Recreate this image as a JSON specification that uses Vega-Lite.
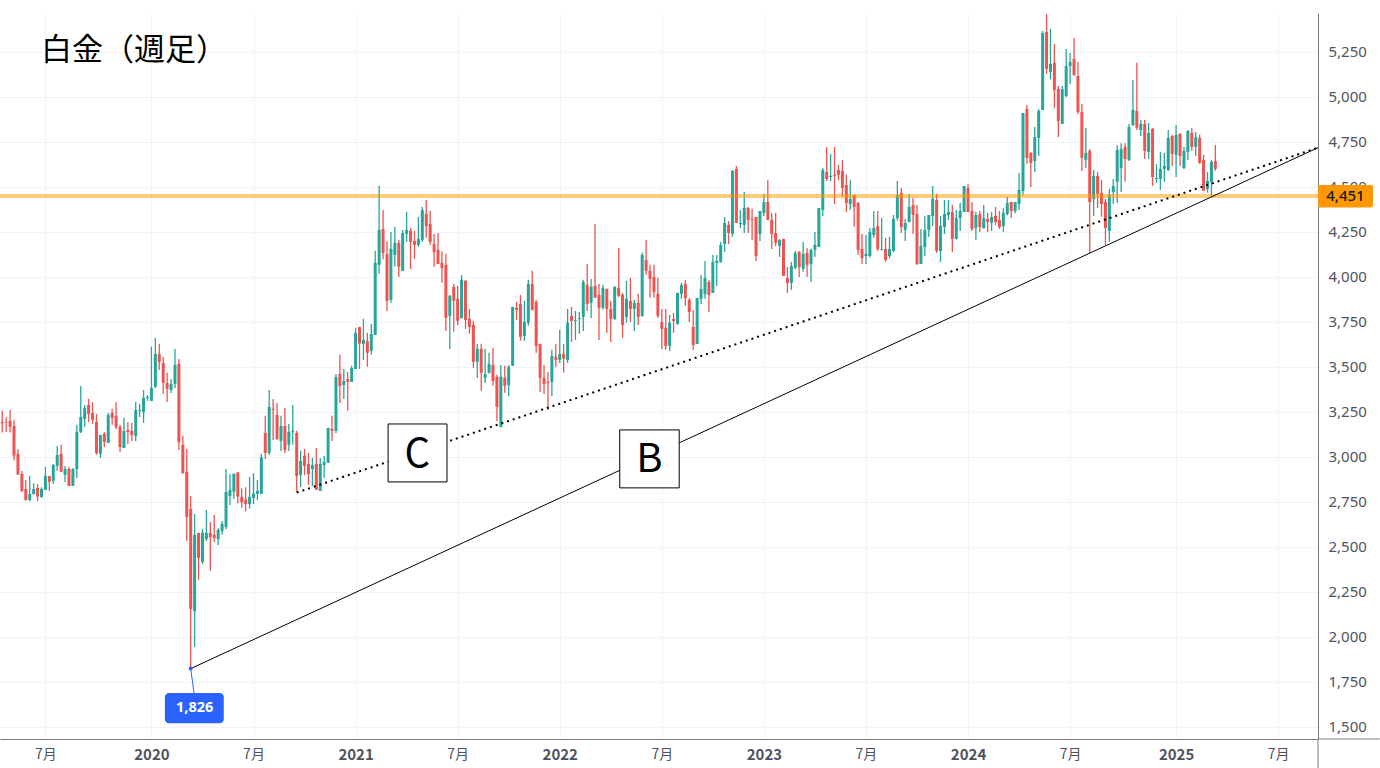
{
  "$schema": "https://vega.github.io/schema/vega-lite/v6.json",
  "width": 1318,
  "height": 726,
  "autosize": {"type": "none"},
  "padding": {"left": 0, "top": 13, "right": 62, "bottom": 29},
  "background": "#ffffff",
  "config": {"view": {"stroke": null}, "font": "Noto Sans"},
  "data": {"values": [
{"d":"2019-04-15","o":3196,"h":3259,"l":3137,"c":3189},
{"d":"2019-04-22","o":3196,"h":3222,"l":3141,"c":3193},
{"d":"2019-04-29","o":3202,"h":3263,"l":3137,"c":3169},
{"d":"2019-05-06","o":3174,"h":3208,"l":2982,"c":3009},
{"d":"2019-05-13","o":3019,"h":3046,"l":2902,"c":2904},
{"d":"2019-05-20","o":2907,"h":2924,"l":2807,"c":2813},
{"d":"2019-05-27","o":2824,"h":2874,"l":2760,"c":2763},
{"d":"2019-06-03","o":2763,"h":2896,"l":2757,"c":2796},
{"d":"2019-06-10","o":2796,"h":2856,"l":2792,"c":2824},
{"d":"2019-06-17","o":2830,"h":2852,"l":2757,"c":2782},
{"d":"2019-06-24","o":2780,"h":2833,"l":2774,"c":2824},
{"d":"2019-07-01","o":2819,"h":2946,"l":2819,"c":2896},
{"d":"2019-07-08","o":2896,"h":2896,"l":2813,"c":2863},
{"d":"2019-07-15","o":2869,"h":2963,"l":2852,"c":2957},
{"d":"2019-07-22","o":2952,"h":3063,"l":2924,"c":3013},
{"d":"2019-07-29","o":3019,"h":3069,"l":2919,"c":2919},
{"d":"2019-08-05","o":2902,"h":2952,"l":2863,"c":2935},
{"d":"2019-08-12","o":2935,"h":2946,"l":2841,"c":2841},
{"d":"2019-08-19","o":2841,"h":2941,"l":2841,"c":2935},
{"d":"2019-08-26","o":2935,"h":3180,"l":2885,"c":3141},
{"d":"2019-09-02","o":3141,"h":3396,"l":3135,"c":3224},
{"d":"2019-09-09","o":3213,"h":3291,"l":3169,"c":3274},
{"d":"2019-09-16","o":3291,"h":3324,"l":3196,"c":3241},
{"d":"2019-09-23","o":3246,"h":3307,"l":3185,"c":3208},
{"d":"2019-09-30","o":3196,"h":3241,"l":3013,"c":3024},
{"d":"2019-10-07","o":3019,"h":3124,"l":2996,"c":3124},
{"d":"2019-10-14","o":3130,"h":3141,"l":3057,"c":3085},
{"d":"2019-10-21","o":3080,"h":3246,"l":3080,"c":3235},
{"d":"2019-10-28","o":3246,"h":3269,"l":3180,"c":3219},
{"d":"2019-11-04","o":3230,"h":3307,"l":3157,"c":3169},
{"d":"2019-11-11","o":3169,"h":3180,"l":3030,"c":3057},
{"d":"2019-11-18","o":3052,"h":3219,"l":3052,"c":3146},
{"d":"2019-11-25","o":3152,"h":3196,"l":3074,"c":3141},
{"d":"2019-12-02","o":3146,"h":3191,"l":3091,"c":3124},
{"d":"2019-12-09","o":3119,"h":3307,"l":3091,"c":3263},
{"d":"2019-12-16","o":3258,"h":3296,"l":3224,"c":3263},
{"d":"2019-12-23","o":3252,"h":3374,"l":3191,"c":3330},
{"d":"2019-12-30","o":3330,"h":3346,"l":3313,"c":3335},
{"d":"2020-01-06","o":3313,"h":3615,"l":3313,"c":3385},
{"d":"2020-01-13","o":3391,"h":3663,"l":3385,"c":3574},
{"d":"2020-01-20","o":3574,"h":3630,"l":3485,"c":3530},
{"d":"2020-01-27","o":3524,"h":3558,"l":3352,"c":3413},
{"d":"2020-02-03","o":3413,"h":3469,"l":3307,"c":3380},
{"d":"2020-02-10","o":3374,"h":3435,"l":3357,"c":3408},
{"d":"2020-02-17","o":3408,"h":3602,"l":3385,"c":3513},
{"d":"2020-02-24","o":3519,"h":3546,"l":3041,"c":3085},
{"d":"2020-03-02","o":3069,"h":3119,"l":2907,"c":2913},
{"d":"2020-03-09","o":2919,"h":3046,"l":2535,"c":2669},
{"d":"2020-03-16","o":2713,"h":2785,"l":1826,"c":2157},
{"d":"2020-03-23","o":2146,"h":2685,"l":1946,"c":2569},
{"d":"2020-03-30","o":2580,"h":2580,"l":2319,"c":2441},
{"d":"2020-04-06","o":2419,"h":2602,"l":2407,"c":2580},
{"d":"2020-04-13","o":2546,"h":2707,"l":2535,"c":2580},
{"d":"2020-04-20","o":2580,"h":2641,"l":2369,"c":2557},
{"d":"2020-04-27","o":2569,"h":2680,"l":2530,"c":2552},
{"d":"2020-05-04","o":2546,"h":2607,"l":2513,"c":2596},
{"d":"2020-05-11","o":2591,"h":2646,"l":2569,"c":2630},
{"d":"2020-05-18","o":2613,"h":2935,"l":2602,"c":2807},
{"d":"2020-05-25","o":2785,"h":2907,"l":2735,"c":2819},
{"d":"2020-06-01","o":2809,"h":2911,"l":2770,"c":2907},
{"d":"2020-06-08","o":2915,"h":2919,"l":2745,"c":2782},
{"d":"2020-06-15","o":2780,"h":2826,"l":2720,"c":2750},
{"d":"2020-06-22","o":2765,"h":2833,"l":2700,"c":2740},
{"d":"2020-06-29","o":2740,"h":2891,"l":2715,"c":2780},
{"d":"2020-07-06","o":2775,"h":2911,"l":2740,"c":2797},
{"d":"2020-07-13","o":2797,"h":2874,"l":2763,"c":2813},
{"d":"2020-07-20","o":2797,"h":3019,"l":2797,"c":3000},
{"d":"2020-07-27","o":3135,"h":3230,"l":2991,"c":3024},
{"d":"2020-08-03","o":3024,"h":3374,"l":3013,"c":3280},
{"d":"2020-08-10","o":3269,"h":3324,"l":3096,"c":3263},
{"d":"2020-08-17","o":3235,"h":3302,"l":3096,"c":3102},
{"d":"2020-08-24","o":3091,"h":3230,"l":3035,"c":3174},
{"d":"2020-08-31","o":3174,"h":3274,"l":3024,"c":3041},
{"d":"2020-09-07","o":3069,"h":3185,"l":3035,"c":3141},
{"d":"2020-09-14","o":3141,"h":3291,"l":3069,"c":3147},
{"d":"2020-09-21","o":3135,"h":3147,"l":2807,"c":2896},
{"d":"2020-09-28","o":2902,"h":3037,"l":2835,"c":2980},
{"d":"2020-10-05","o":3008,"h":3046,"l":2902,"c":2952},
{"d":"2020-10-12","o":2963,"h":3024,"l":2846,"c":2907},
{"d":"2020-10-19","o":2935,"h":2996,"l":2841,"c":2957},
{"d":"2020-10-26","o":2963,"h":3052,"l":2819,"c":2819},
{"d":"2020-11-02","o":2813,"h":2996,"l":2813,"c":2963},
{"d":"2020-11-09","o":2957,"h":3008,"l":2885,"c":2974},
{"d":"2020-11-16","o":2969,"h":3163,"l":2969,"c":3163},
{"d":"2020-11-23","o":3158,"h":3230,"l":3091,"c":3147},
{"d":"2020-11-30","o":3147,"h":3463,"l":3135,"c":3446},
{"d":"2020-12-07","o":3463,"h":3569,"l":3302,"c":3396},
{"d":"2020-12-14","o":3402,"h":3491,"l":3324,"c":3424},
{"d":"2020-12-21","o":3435,"h":3474,"l":3258,"c":3419},
{"d":"2020-12-28","o":3419,"h":3508,"l":3419,"c":3496},
{"d":"2021-01-04","o":3491,"h":3719,"l":3491,"c":3691},
{"d":"2021-01-11","o":3724,"h":3724,"l":3491,"c":3632},
{"d":"2021-01-18","o":3630,"h":3769,"l":3541,"c":3652},
{"d":"2021-01-25","o":3646,"h":3691,"l":3502,"c":3580},
{"d":"2021-02-01","o":3591,"h":3741,"l":3569,"c":3685},
{"d":"2021-02-08","o":3680,"h":4147,"l":3680,"c":4080},
{"d":"2021-02-15","o":4069,"h":4508,"l":4019,"c":4263},
{"d":"2021-02-22","o":4269,"h":4374,"l":4100,"c":4135},
{"d":"2021-03-01","o":4130,"h":4200,"l":3813,"c":3869},
{"d":"2021-03-08","o":3874,"h":4252,"l":3858,"c":4158},
{"d":"2021-03-15","o":4124,"h":4280,"l":4060,"c":4191},
{"d":"2021-03-22","o":4191,"h":4208,"l":4002,"c":4058},
{"d":"2021-03-29","o":4035,"h":4263,"l":4035,"c":4246},
{"d":"2021-04-05","o":4241,"h":4363,"l":4196,"c":4263},
{"d":"2021-04-12","o":4258,"h":4274,"l":4046,"c":4196},
{"d":"2021-04-19","o":4202,"h":4258,"l":4102,"c":4180},
{"d":"2021-04-26","o":4180,"h":4335,"l":4169,"c":4213},
{"d":"2021-05-03","o":4208,"h":4391,"l":4196,"c":4374},
{"d":"2021-05-10","o":4352,"h":4430,"l":4219,"c":4285},
{"d":"2021-05-17","o":4296,"h":4369,"l":4180,"c":4196},
{"d":"2021-05-24","o":4185,"h":4241,"l":4058,"c":4141},
{"d":"2021-05-31","o":4152,"h":4246,"l":4074,"c":4074},
{"d":"2021-06-07","o":4080,"h":4143,"l":3969,"c":4052},
{"d":"2021-06-14","o":4069,"h":4130,"l":3702,"c":3774},
{"d":"2021-06-21","o":3786,"h":3902,"l":3602,"c":3897},
{"d":"2021-06-28","o":3947,"h":3963,"l":3697,"c":3869},
{"d":"2021-07-05","o":3880,"h":3952,"l":3735,"c":3758},
{"d":"2021-07-12","o":3774,"h":4013,"l":3770,"c":3986},
{"d":"2021-07-19","o":3980,"h":3986,"l":3713,"c":3763},
{"d":"2021-07-26","o":3769,"h":3824,"l":3685,"c":3724},
{"d":"2021-08-02","o":3735,"h":3758,"l":3497,"c":3530},
{"d":"2021-08-09","o":3530,"h":3630,"l":3441,"c":3602},
{"d":"2021-08-16","o":3602,"h":3630,"l":3369,"c":3469},
{"d":"2021-08-23","o":3441,"h":3602,"l":3413,"c":3463},
{"d":"2021-08-30","o":3469,"h":3580,"l":3465,"c":3519},
{"d":"2021-09-06","o":3513,"h":3608,"l":3397,"c":3424},
{"d":"2021-09-13","o":3447,"h":3458,"l":3202,"c":3280},
{"d":"2021-09-20","o":3169,"h":3513,"l":3165,"c":3447},
{"d":"2021-09-27","o":3441,"h":3508,"l":3358,"c":3397},
{"d":"2021-10-04","o":3402,"h":3513,"l":3341,"c":3502},
{"d":"2021-10-11","o":3508,"h":3835,"l":3508,"c":3835},
{"d":"2021-10-18","o":3830,"h":3863,"l":3763,"c":3819},
{"d":"2021-10-25","o":3852,"h":3902,"l":3647,"c":3669},
{"d":"2021-11-01","o":3674,"h":3869,"l":3647,"c":3752},
{"d":"2021-11-08","o":3747,"h":3986,"l":3730,"c":3963},
{"d":"2021-11-15","o":3963,"h":4036,"l":3815,"c":3819},
{"d":"2021-11-22","o":3863,"h":3874,"l":3580,"c":3619},
{"d":"2021-11-29","o":3630,"h":3630,"l":3363,"c":3441},
{"d":"2021-12-06","o":3441,"h":3513,"l":3352,"c":3408},
{"d":"2021-12-13","o":3419,"h":3474,"l":3263,"c":3413},
{"d":"2021-12-20","o":3419,"h":3597,"l":3341,"c":3563},
{"d":"2021-12-27","o":3558,"h":3630,"l":3502,"c":3541},
{"d":"2022-01-03","o":3541,"h":3708,"l":3524,"c":3574},
{"d":"2022-01-10","o":3574,"h":3630,"l":3469,"c":3547},
{"d":"2022-01-17","o":3541,"h":3824,"l":3524,"c":3747},
{"d":"2022-01-24","o":3785,"h":3835,"l":3641,"c":3758},
{"d":"2022-01-31","o":3758,"h":3813,"l":3652,"c":3763},
{"d":"2022-02-07","o":3769,"h":3808,"l":3685,"c":3774},
{"d":"2022-02-14","o":3780,"h":3986,"l":3702,"c":3974},
{"d":"2022-02-21","o":3958,"h":4074,"l":3813,"c":3852},
{"d":"2022-02-28","o":3858,"h":3991,"l":3774,"c":3947},
{"d":"2022-03-07","o":3952,"h":4297,"l":3886,"c":3886},
{"d":"2022-03-14","o":3902,"h":3963,"l":3652,"c":3830},
{"d":"2022-03-21","o":3830,"h":3958,"l":3819,"c":3941},
{"d":"2022-03-28","o":3936,"h":3936,"l":3691,"c":3824},
{"d":"2022-04-04","o":3824,"h":3869,"l":3641,"c":3769},
{"d":"2022-04-11","o":3769,"h":3952,"l":3763,"c":3947},
{"d":"2022-04-18","o":3941,"h":4163,"l":3890,"c":3897},
{"d":"2022-04-25","o":3902,"h":3913,"l":3663,"c":3735},
{"d":"2022-05-02","o":3780,"h":3980,"l":3747,"c":3880},
{"d":"2022-05-09","o":3869,"h":3997,"l":3752,"c":3824},
{"d":"2022-05-16","o":3824,"h":3874,"l":3702,"c":3858},
{"d":"2022-05-23","o":3858,"h":3908,"l":3735,"c":3780},
{"d":"2022-05-30","o":3785,"h":4136,"l":3780,"c":4124},
{"d":"2022-06-06","o":4097,"h":4208,"l":4013,"c":4036},
{"d":"2022-06-13","o":4036,"h":4069,"l":3886,"c":3991},
{"d":"2022-06-20","o":4002,"h":4069,"l":3886,"c":3919},
{"d":"2022-06-27","o":3908,"h":3997,"l":3774,"c":3786},
{"d":"2022-07-04","o":3752,"h":3824,"l":3602,"c":3713},
{"d":"2022-07-11","o":3719,"h":3824,"l":3597,"c":3619},
{"d":"2022-07-18","o":3619,"h":3791,"l":3591,"c":3747},
{"d":"2022-07-25","o":3768,"h":3802,"l":3691,"c":3757},
{"d":"2022-08-01","o":3741,"h":3913,"l":3735,"c":3913},
{"d":"2022-08-08","o":3907,"h":3968,"l":3880,"c":3957},
{"d":"2022-08-15","o":3963,"h":3985,"l":3841,"c":3885},
{"d":"2022-08-22","o":3874,"h":3885,"l":3752,"c":3807},
{"d":"2022-08-29","o":3724,"h":3818,"l":3596,"c":3624},
{"d":"2022-09-05","o":3630,"h":3885,"l":3630,"c":3885},
{"d":"2022-09-12","o":3880,"h":4013,"l":3852,"c":3935},
{"d":"2022-09-19","o":3907,"h":4091,"l":3880,"c":3996},
{"d":"2022-09-26","o":3974,"h":3985,"l":3807,"c":3902},
{"d":"2022-10-03","o":3913,"h":4124,"l":3913,"c":4085},
{"d":"2022-10-10","o":4080,"h":4124,"l":3952,"c":4091},
{"d":"2022-10-17","o":4085,"h":4196,"l":4080,"c":4180},
{"d":"2022-10-24","o":4185,"h":4335,"l":4141,"c":4302},
{"d":"2022-10-31","o":4291,"h":4313,"l":4185,"c":4246},
{"d":"2022-11-07","o":4241,"h":4596,"l":4224,"c":4591},
{"d":"2022-11-14","o":4602,"h":4619,"l":4302,"c":4302},
{"d":"2022-11-21","o":4296,"h":4374,"l":4274,"c":4302},
{"d":"2022-11-28","o":4291,"h":4474,"l":4246,"c":4385},
{"d":"2022-12-05","o":4385,"h":4391,"l":4246,"c":4319},
{"d":"2022-12-12","o":4324,"h":4380,"l":4207,"c":4319},
{"d":"2022-12-19","o":4335,"h":4335,"l":4091,"c":4118},
{"d":"2022-12-26","o":4241,"h":4368,"l":4202,"c":4368},
{"d":"2023-01-02","o":4357,"h":4463,"l":4340,"c":4418},
{"d":"2023-01-09","o":4418,"h":4541,"l":4319,"c":4319},
{"d":"2023-01-16","o":4319,"h":4355,"l":4157,"c":4241},
{"d":"2023-01-23","o":4246,"h":4357,"l":4174,"c":4191},
{"d":"2023-01-30","o":4174,"h":4213,"l":4113,"c":4207},
{"d":"2023-02-06","o":4213,"h":4213,"l":4007,"c":4007},
{"d":"2023-02-13","o":3996,"h":4057,"l":3913,"c":3968},
{"d":"2023-02-20","o":3968,"h":4085,"l":3930,"c":4063},
{"d":"2023-02-27","o":4052,"h":4146,"l":4045,"c":4135},
{"d":"2023-03-06","o":4141,"h":4146,"l":4002,"c":4057},
{"d":"2023-03-13","o":4046,"h":4196,"l":4030,"c":4130},
{"d":"2023-03-20","o":4135,"h":4163,"l":4002,"c":4069},
{"d":"2023-03-27","o":4074,"h":4160,"l":3974,"c":4152},
{"d":"2023-04-03","o":4152,"h":4252,"l":4113,"c":4180},
{"d":"2023-04-10","o":4168,"h":4385,"l":4168,"c":4385},
{"d":"2023-04-17","o":4374,"h":4607,"l":4341,"c":4596},
{"d":"2023-04-24","o":4585,"h":4724,"l":4535,"c":4546},
{"d":"2023-05-01","o":4557,"h":4685,"l":4535,"c":4563},
{"d":"2023-05-08","o":4569,"h":4724,"l":4407,"c":4563},
{"d":"2023-05-15","o":4596,"h":4624,"l":4540,"c":4569},
{"d":"2023-05-22","o":4591,"h":4652,"l":4446,"c":4496},
{"d":"2023-05-29","o":4513,"h":4569,"l":4363,"c":4413},
{"d":"2023-06-05","o":4407,"h":4541,"l":4374,"c":4435},
{"d":"2023-06-12","o":4457,"h":4457,"l":4280,"c":4391},
{"d":"2023-06-19","o":4413,"h":4418,"l":4124,"c":4152},
{"d":"2023-06-26","o":4157,"h":4241,"l":4074,"c":4107},
{"d":"2023-07-03","o":4118,"h":4235,"l":4074,"c":4130},
{"d":"2023-07-10","o":4118,"h":4274,"l":4110,"c":4252},
{"d":"2023-07-17","o":4235,"h":4368,"l":4220,"c":4274},
{"d":"2023-07-24","o":4285,"h":4368,"l":4146,"c":4157},
{"d":"2023-07-31","o":4152,"h":4330,"l":4150,"c":4157},
{"d":"2023-08-07","o":4157,"h":4218,"l":4087,"c":4096},
{"d":"2023-08-14","o":4118,"h":4224,"l":4105,"c":4157},
{"d":"2023-08-21","o":4146,"h":4346,"l":4140,"c":4324},
{"d":"2023-08-28","o":4329,"h":4535,"l":4315,"c":4457},
{"d":"2023-09-04","o":4468,"h":4496,"l":4246,"c":4279},
{"d":"2023-09-11","o":4263,"h":4324,"l":4202,"c":4302},
{"d":"2023-09-18","o":4307,"h":4463,"l":4305,"c":4391},
{"d":"2023-09-25","o":4402,"h":4441,"l":4240,"c":4346},
{"d":"2023-10-02","o":4351,"h":4402,"l":4068,"c":4074},
{"d":"2023-10-09","o":4074,"h":4268,"l":4074,"c":4174},
{"d":"2023-10-16","o":4168,"h":4340,"l":4118,"c":4263},
{"d":"2023-10-23","o":4263,"h":4346,"l":4224,"c":4346},
{"d":"2023-10-30","o":4340,"h":4507,"l":4285,"c":4435},
{"d":"2023-11-06","o":4429,"h":4463,"l":4135,"c":4146},
{"d":"2023-11-13","o":4146,"h":4340,"l":4085,"c":4285},
{"d":"2023-11-20","o":4279,"h":4429,"l":4240,"c":4351},
{"d":"2023-11-27","o":4346,"h":4429,"l":4318,"c":4363},
{"d":"2023-12-04","o":4363,"h":4402,"l":4140,"c":4213},
{"d":"2023-12-11","o":4213,"h":4374,"l":4210,"c":4329},
{"d":"2023-12-18","o":4329,"h":4413,"l":4257,"c":4368},
{"d":"2023-12-25","o":4363,"h":4507,"l":4363,"c":4507},
{"d":"2024-01-01","o":4496,"h":4518,"l":4363,"c":4363},
{"d":"2024-01-08","o":4368,"h":4418,"l":4257,"c":4268},
{"d":"2024-01-15","o":4274,"h":4363,"l":4207,"c":4346},
{"d":"2024-01-22","o":4351,"h":4368,"l":4252,"c":4279},
{"d":"2024-01-29","o":4274,"h":4402,"l":4270,"c":4329},
{"d":"2024-02-05","o":4324,"h":4357,"l":4252,"c":4307},
{"d":"2024-02-12","o":4302,"h":4363,"l":4257,"c":4335},
{"d":"2024-02-19","o":4341,"h":4391,"l":4290,"c":4307},
{"d":"2024-02-26","o":4318,"h":4368,"l":4268,"c":4279},
{"d":"2024-03-04","o":4285,"h":4385,"l":4252,"c":4357},
{"d":"2024-03-11","o":4351,"h":4446,"l":4345,"c":4413},
{"d":"2024-03-18","o":4418,"h":4420,"l":4329,"c":4368},
{"d":"2024-03-25","o":4368,"h":4418,"l":4355,"c":4418},
{"d":"2024-04-01","o":4407,"h":4579,"l":4374,"c":4485},
{"d":"2024-04-08","o":4479,"h":4913,"l":4457,"c":4913},
{"d":"2024-04-15","o":4935,"h":4957,"l":4629,"c":4663},
{"d":"2024-04-22","o":4690,"h":4696,"l":4502,"c":4635},
{"d":"2024-04-29","o":4646,"h":4835,"l":4585,"c":4779},
{"d":"2024-05-06","o":4774,"h":4935,"l":4674,"c":4924},
{"d":"2024-05-13","o":4929,"h":5368,"l":4929,"c":5357},
{"d":"2024-05-20","o":5363,"h":5463,"l":5129,"c":5157},
{"d":"2024-05-27","o":5141,"h":5379,"l":5100,"c":5185},
{"d":"2024-06-03","o":5191,"h":5296,"l":4941,"c":5041},
{"d":"2024-06-10","o":5046,"h":5063,"l":4779,"c":4868},
{"d":"2024-06-17","o":4852,"h":5063,"l":4852,"c":5046},
{"d":"2024-06-24","o":5007,"h":5268,"l":5000,"c":5174},
{"d":"2024-07-01","o":5174,"h":5246,"l":5074,"c":5196},
{"d":"2024-07-08","o":5213,"h":5329,"l":5118,"c":5124},
{"d":"2024-07-15","o":5118,"h":5196,"l":4907,"c":4918},
{"d":"2024-07-22","o":4918,"h":4963,"l":4590,"c":4663},
{"d":"2024-07-29","o":4652,"h":4829,"l":4607,"c":4691},
{"d":"2024-08-05","o":4702,"h":4713,"l":4135,"c":4418},
{"d":"2024-08-12","o":4435,"h":4596,"l":4340,"c":4563},
{"d":"2024-08-19","o":4563,"h":4585,"l":4385,"c":4463},
{"d":"2024-08-26","o":4468,"h":4541,"l":4337,"c":4407},
{"d":"2024-09-02","o":4418,"h":4435,"l":4179,"c":4274},
{"d":"2024-09-09","o":4257,"h":4491,"l":4196,"c":4457},
{"d":"2024-09-16","o":4474,"h":4546,"l":4407,"c":4507},
{"d":"2024-09-23","o":4530,"h":4735,"l":4413,"c":4707},
{"d":"2024-09-30","o":4607,"h":4745,"l":4474,"c":4713},
{"d":"2024-10-07","o":4724,"h":4746,"l":4530,"c":4657},
{"d":"2024-10-14","o":4652,"h":4852,"l":4646,"c":4835},
{"d":"2024-10-21","o":4846,"h":5096,"l":4840,"c":4930},
{"d":"2024-10-28","o":4924,"h":5191,"l":4818,"c":4830},
{"d":"2024-11-04","o":4818,"h":4874,"l":4785,"c":4852},
{"d":"2024-11-11","o":4852,"h":4874,"l":4657,"c":4702},
{"d":"2024-11-18","o":4696,"h":4857,"l":4657,"c":4802},
{"d":"2024-11-25","o":4824,"h":4830,"l":4507,"c":4557},
{"d":"2024-12-02","o":4546,"h":4630,"l":4524,"c":4552},
{"d":"2024-12-09","o":4546,"h":4696,"l":4485,"c":4602},
{"d":"2024-12-16","o":4602,"h":4690,"l":4530,"c":4618},
{"d":"2024-12-23","o":4596,"h":4818,"l":4590,"c":4774},
{"d":"2024-12-30","o":4785,"h":4791,"l":4618,"c":4685},
{"d":"2025-01-06","o":4680,"h":4846,"l":4557,"c":4791},
{"d":"2025-01-13","o":4796,"h":4802,"l":4618,"c":4674},
{"d":"2025-01-20","o":4607,"h":4724,"l":4602,"c":4702},
{"d":"2025-01-27","o":4696,"h":4818,"l":4652,"c":4813},
{"d":"2025-02-03","o":4802,"h":4830,"l":4702,"c":4724},
{"d":"2025-02-10","o":4724,"h":4807,"l":4674,"c":4780},
{"d":"2025-02-17","o":4774,"h":4791,"l":4630,"c":4635},
{"d":"2025-02-24","o":4652,"h":4680,"l":4480,"c":4480},
{"d":"2025-03-03","o":4491,"h":4585,"l":4470,"c":4535},
{"d":"2025-03-10","o":4530,"h":4652,"l":4452,"c":4641},
{"d":"2025-03-17","o":4646,"h":4735,"l":4591,"c":4602}
  ]},
  "layer": [
    {
      "mark": {"type": "rule", "strokeWidth": 1.3},
      "encoding": {
        "x": {
          "field": "d",
          "type": "temporal",
          "title": null,
          "scale": {"type": "utc", "nice": false, "padding": 0, "domain": [{"year": 2019, "month": 4, "date": 11, "utc": true}, {"year": 2025, "month": 9, "date": 16, "utc": true}]},
          "axis": {
            "orient": "bottom",
            "values": [
              {"year": 2019, "month": 7, "date": 1, "utc": true},
              {"year": 2020, "month": 1, "date": 6, "utc": true},
              {"year": 2020, "month": 7, "date": 6, "utc": true},
              {"year": 2021, "month": 1, "date": 4, "utc": true},
              {"year": 2021, "month": 7, "date": 5, "utc": true},
              {"year": 2022, "month": 1, "date": 3, "utc": true},
              {"year": 2022, "month": 7, "date": 4, "utc": true},
              {"year": 2023, "month": 1, "date": 2, "utc": true},
              {"year": 2023, "month": 7, "date": 3, "utc": true},
              {"year": 2024, "month": 1, "date": 1, "utc": true},
              {"year": 2024, "month": 7, "date": 1, "utc": true},
              {"year": 2025, "month": 1, "date": 6, "utc": true},
              {"year": 2025, "month": 7, "date": 7, "utc": true}
            ],
            "labelExpr": "utcmonth(datum.value) == 0 ? utcyear(datum.value) + '' : '7月'",
            "labelFontWeight": {"condition": {"test": "utcmonth(datum.value) == 0", "value": "bold"}, "value": "normal"},
            "labelFontSize": {"condition": {"test": "utcmonth(datum.value) == 0", "value": 15}, "value": 14},
            "labelFont": "Noto Sans CJK JP",
            "labelColor": "#50535e",
            "labelPadding": 8,
            "labelOverlap": false,
            "labelFlush": false,
            "ticks": false,
            "grid": true,
            "gridColor": "#f0f3fa",
            "gridWidth": 1,
            "domainColor": "#787b86",
            "domainWidth": 1
          }
        },
        "y": {
          "field": "l",
          "type": "quantitative",
          "title": null,
          "scale": {"domain": [1435, 5468], "nice": false, "zero": false, "padding": 0},
          "axis": {
            "orient": "right",
            "values": [1500, 1750, 2000, 2250, 2500, 2750, 3000, 3250, 3500, 3750, 4000, 4250, 4500, 4750, 5000, 5250],
            "format": ",.0f",
            "labelFont": "Noto Sans",
            "labelFontSize": 15,
            "labelFontWeight": 400,
            "labelColor": "#50535e",
            "labelPadding": 10,
            "labelOffset": -1,
            "labelOverlap": false,
            "labelFlush": false,
            "ticks": false,
            "grid": true,
            "gridColor": "#f0f3fa",
            "gridWidth": 1,
            "domainColor": "#787b86",
            "domainWidth": 1
          }
        },
        "y2": {"field": "h"},
        "color": {"condition": {"test": "datum.c >= datum.o", "value": "#26a69a"}, "value": "#ef5350"}
      }
    },
    {
      "mark": {"type": "bar", "size": 3},
      "encoding": {
        "x": {"field": "d", "type": "temporal"},
        "y": {"field": "o", "type": "quantitative"},
        "y2": {"field": "c"},
        "color": {"condition": {"test": "datum.c >= datum.o", "value": "#26a69a"}, "value": "#ef5350"}
      }
    },
    {
      "data": {"values": [{"d": "2025-09-16", "d2": "2026-01-04", "v": 1435}]},
      "mark": {"type": "rule", "color": "#787b86", "strokeWidth": 1},
      "encoding": {
        "x": {"field": "d", "type": "temporal"},
        "x2": {"field": "d2"},
        "y": {"field": "v", "type": "quantitative"}
      }
    },
    {
      "data": {"values": [{"d": "2025-09-16", "v": 1435, "v2": 1274}]},
      "mark": {"type": "rule", "color": "#787b86", "strokeWidth": 1},
      "encoding": {
        "x": {"field": "d", "type": "temporal"},
        "y": {"field": "v", "type": "quantitative"},
        "y2": {"field": "v2"}
      }
    },
    {
      "data": {"values": [{"price": 4451}]},
      "mark": {"type": "rule", "color": "#ff9800", "opacity": 0.5, "strokeWidth": 4},
      "encoding": {"y": {"field": "price", "type": "quantitative"}}
    },
    {
      "data": {"values": [{"d": "2020-03-16", "v": 1826}, {"d": "2025-09-16", "v": 4720}]},
      "mark": {"type": "line", "color": "#000000", "strokeWidth": 1},
      "encoding": {"x": {"field": "d", "type": "temporal"}, "y": {"field": "v", "type": "quantitative"}}
    },
    {
      "data": {"values": [{"d": "2020-09-21", "v": 2804}, {"d": "2025-09-16", "v": 4720}]},
      "mark": {"type": "line", "color": "#000000", "strokeWidth": 2, "strokeDash": [2, 4]},
      "encoding": {"x": {"field": "d", "type": "temporal"}, "y": {"field": "v", "type": "quantitative"}}
    },
    {
      "data": {"values": [
        {"d": "2021-03-03", "d2": "2021-06-16", "v": 3185, "v2": 2863},
        {"d": "2022-04-20", "d2": "2022-08-04", "v": 3152, "v2": 2830}
      ]},
      "mark": {"type": "rect", "fill": "#ffffff", "stroke": "#000000", "strokeWidth": 1},
      "encoding": {
        "x": {"field": "d", "type": "temporal"},
        "x2": {"field": "d2"},
        "y": {"field": "v", "type": "quantitative"},
        "y2": {"field": "v2"}
      }
    },
    {
      "data": {"values": [
        {"d": "2021-04-24", "v": 3015, "t": "C"},
        {"d": "2022-06-12", "v": 2985, "t": "B"}
      ]},
      "mark": {"type": "text", "font": "Noto Sans CJK JP", "fontSize": 40, "fontWeight": 400, "color": "#000000", "align": "center", "baseline": "middle"},
      "encoding": {
        "x": {"field": "d", "type": "temporal"},
        "y": {"field": "v", "type": "quantitative"},
        "text": {"field": "t"}
      }
    },
    {
      "data": {"values": [{"d": "2019-06-23", "v": 5258, "t": "白金（週足）"}]},
      "mark": {"type": "text", "font": "Noto Sans CJK JP", "fontSize": 31, "color": "#000000", "align": "left", "baseline": "middle"},
      "encoding": {
        "x": {"field": "d", "type": "temporal"},
        "y": {"field": "v", "type": "quantitative"},
        "text": {"field": "t"}
      }
    },
    {
      "data": {"values": [{"d": "2020-03-16", "v": 1826}, {"d": "2020-03-22", "v": 1690}]},
      "mark": {"type": "line", "color": "#2962ff", "strokeWidth": 1},
      "encoding": {"x": {"field": "d", "type": "temporal"}, "y": {"field": "v", "type": "quantitative"}}
    },
    {
      "data": {"values": [{"d": "2020-03-16", "v": 1826}]},
      "mark": {"type": "point", "filled": true, "color": "#2962ff", "size": 16, "opacity": 1},
      "encoding": {"x": {"field": "d", "type": "temporal"}, "y": {"field": "v", "type": "quantitative"}}
    },
    {
      "data": {"values": [{"d": "2020-01-30", "d2": "2020-05-14", "v": 1690, "v2": 1523}]},
      "mark": {"type": "rect", "fill": "#2962ff", "cornerRadius": 4},
      "encoding": {
        "x": {"field": "d", "type": "temporal"},
        "x2": {"field": "d2"},
        "y": {"field": "v", "type": "quantitative"},
        "y2": {"field": "v2"}
      }
    },
    {
      "data": {"values": [{"d": "2020-03-23", "v": 1606, "t": "1,826"}]},
      "mark": {"type": "text", "font": "Noto Sans", "fontSize": 14.5, "fontWeight": "bold", "color": "#ffffff", "align": "center", "baseline": "middle"},
      "encoding": {
        "x": {"field": "d", "type": "temporal"},
        "y": {"field": "v", "type": "quantitative"},
        "text": {"field": "t"}
      }
    },
    {
      "data": {"values": [{"d": "2025-09-16", "d2": "2025-12-23", "v": 4513, "v2": 4387}]},
      "mark": {"type": "rect", "fill": "#ff9800", "cornerRadius": 2},
      "encoding": {
        "x": {"field": "d", "type": "temporal"},
        "x2": {"field": "d2"},
        "y": {"field": "v", "type": "quantitative"},
        "y2": {"field": "v2"}
      }
    },
    {
      "data": {"values": [{"d": "2025-11-04", "v": 4451, "t": "4,451"}]},
      "mark": {"type": "text", "font": "Noto Sans", "fontSize": 15, "fontWeight": 500, "color": "#131722", "align": "center", "baseline": "middle"},
      "encoding": {
        "x": {"field": "d", "type": "temporal"},
        "y": {"field": "v", "type": "quantitative"},
        "text": {"field": "t"}
      }
    }
  ]
}
